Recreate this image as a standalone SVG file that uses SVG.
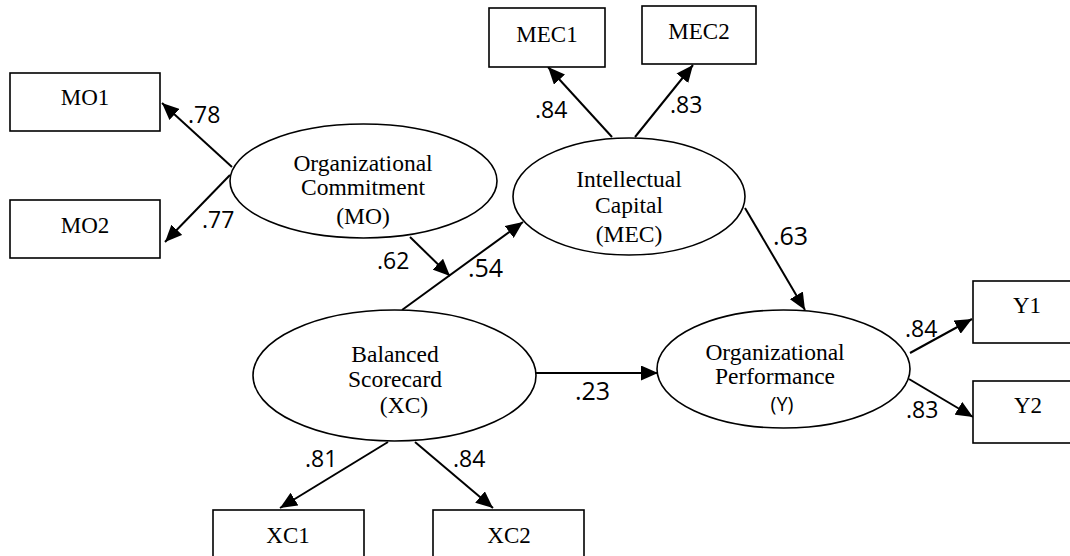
<svg xmlns="http://www.w3.org/2000/svg" width="1070" height="556" viewBox="0 0 1070 556">
<style>
.box{fill:#fff;stroke:#000;stroke-width:1.6}
.ell{fill:#fff;stroke:#000;stroke-width:1.6}
.nt{font-family:"Liberation Serif","Times New Roman",serif;font-size:23px;fill:#000;text-anchor:middle}
.et{font-family:"Liberation Serif","Times New Roman",serif;font-size:23.5px;fill:#000;text-anchor:middle}
.es{font-family:"Open Sans","Liberation Sans",sans-serif;font-size:20px;fill:#000;text-anchor:middle}
.lb{font-family:"Open Sans","Liberation Sans",sans-serif;font-size:23px;fill:#000}
.pc{font-family:"Open Sans","Liberation Sans",sans-serif;font-size:25px;fill:#000}
.ar{stroke:#000;stroke-width:2;fill:none;marker-end:url(#ah)}
</style>
<defs>
<marker id="ah" markerUnits="userSpaceOnUse" markerWidth="17" markerHeight="15" refX="17" refY="7.5" orient="auto">
<path d="M0,0 L17,7.5 L0,15 z" fill="#000"/>
</marker>
</defs>
<rect width="1070" height="556" fill="#fff"/>
<g id="connectors">
<line class="ar" x1="232" y1="167" x2="162" y2="103"/>
<line class="ar" x1="230" y1="175" x2="165" y2="242"/>
<line class="ar" x1="612" y1="137" x2="548" y2="67"/>
<line class="ar" x1="635" y1="137" x2="693" y2="65"/>
<line class="ar" x1="410" y1="237" x2="450" y2="276"/>
<line class="ar" x1="402" y1="310" x2="523" y2="222"/>
<line class="ar" x1="745" y1="208" x2="805" y2="310"/>
<line class="ar" x1="536" y1="373" x2="658" y2="373"/>
<line class="ar" x1="388" y1="442" x2="280" y2="508"/>
<line class="ar" x1="415" y1="442" x2="493" y2="508"/>
<line class="ar" x1="910" y1="353" x2="972" y2="319"/>
<line class="ar" x1="909" y1="379" x2="973" y2="417"/>
<text class="lb" x="188" y="123">.78</text>
<text class="lb" x="202" y="228">.77</text>
<text class="lb" x="535" y="118">.84</text>
<text class="lb" x="670" y="113">.83</text>
<text class="lb" x="377" y="269">.62</text>
<text class="pc" x="468" y="277">.54</text>
<text class="pc" x="773" y="245">.63</text>
<text class="pc" x="575" y="400">.23</text>
<text class="lb" x="305" y="467">.81</text>
<text class="lb" x="453" y="467">.84</text>
<text class="lb" x="905" y="337">.84</text>
<text class="lb" x="906" y="418">.83</text>
</g>
<g id="MO1"><rect class="box" x="10" y="73" width="150" height="58"/><text class="nt" x="85" y="105">MO1</text></g>
<g id="MO2"><rect class="box" x="10" y="200" width="150" height="58"/><text class="nt" x="85" y="233">MO2</text></g>
<g id="MEC1"><rect class="box" x="489" y="8" width="116" height="59"/><text class="nt" x="547" y="42">MEC1</text></g>
<g id="MEC2"><rect class="box" x="642" y="6" width="114" height="58"/><text class="nt" x="699" y="39">MEC2</text></g>
<g id="XC1"><rect class="box" x="213" y="510" width="151" height="60"/><text class="nt" x="288" y="543">XC1</text></g>
<g id="XC2"><rect class="box" x="433" y="510" width="151" height="60"/><text class="nt" x="509" y="543">XC2</text></g>
<g id="Y1"><rect class="box" x="973" y="281" width="110" height="62"/><text class="nt" x="1027" y="313">Y1</text></g>
<g id="Y2"><rect class="box" x="973" y="381" width="110" height="62"/><text class="nt" x="1028" y="413">Y2</text></g>
<g id="MO"><ellipse class="ell" cx="363.5" cy="181" rx="133.5" ry="57"/>
<text class="et" x="363" y="171">Organizational</text>
<text class="et" x="363" y="195">Commitment</text>
<text class="et" x="363" y="224">(MO)</text></g>
<g id="MEC"><ellipse class="ell" cx="629" cy="196.5" rx="116" ry="58.5"/>
<text class="et" x="629" y="187">Intellectual</text>
<text class="et" x="629" y="213">Capital</text>
<text class="et" x="629" y="242">(MEC)</text></g>
<g id="XC"><ellipse class="ell" cx="394.5" cy="375.5" rx="141.5" ry="65.5"/>
<text class="et" x="395" y="362">Balanced</text>
<text class="et" x="395" y="387">Scorecard</text>
<text class="et" x="404" y="413">(XC)</text></g>
<g id="Y"><ellipse class="ell" cx="783.5" cy="369" rx="126.5" ry="59"/>
<text class="et" x="775" y="360">Organizational</text>
<text class="et" x="775" y="384">Performance</text>
<text class="es" x="782" y="411">(Y)</text></g>
</svg>
